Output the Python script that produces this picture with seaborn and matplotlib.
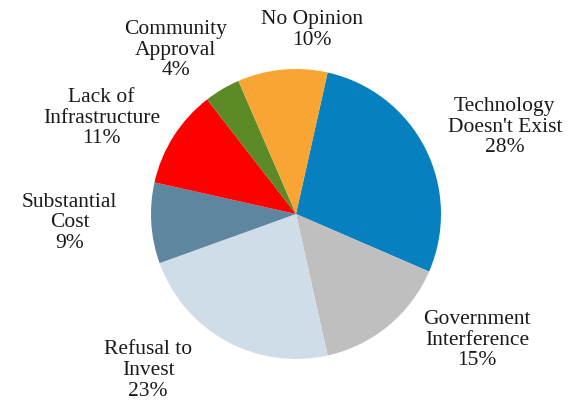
"""
Pie chart: reasons given, share of responses
"""

import matplotlib
matplotlib.use("Agg")
import matplotlib.pyplot as plt
import seaborn as sns

categories = [
    "Technology\nDoesn't Exist",
    "Government\nInterference",
    "Refusal to\nInvest",
    "Substantial\nCost",
    "Lack of\nInfrastructure",
    "Community\nApproval",
    "No Opinion",
]
shares = [28, 15, 23, 9, 11, 4, 10]
colors = ["#0780BF", "#BFBFBF", "#CFDDE8", "#5E869F", "#FF0000", "#5B8A27", "#F8A534"]

# label centres, in pie-radius units
label_x = [1.44, 1.25, -1.02, -1.56, -1.34, -0.83, 0.11]
label_y = [0.60, -0.87, -1.08, -0.06, 0.66, 1.13, 1.27]

sns.set_theme(style="white")
plt.rcParams["font.family"] = ["Liberation Serif", "DejaVu Serif"]

fig = plt.figure(figsize=(5.77, 4.05), dpi=100)
ax = fig.add_axes([0, 0, 1, 1])

ax.pie(shares, colors=colors, startangle=77.4, counterclock=False,
       wedgeprops=dict(linewidth=0))

for name, val, x, y in zip(categories, shares, label_x, label_y):
    ax.text(x, y, f"{name}\n{val}%", ha="center", va="center",
            fontsize=15.5, linespacing=1.12, color="#1a1a1a")

# 145 px per radius unit, centre at (296, 214) from top-left
ax.set_aspect("auto")
ax.set_xlim(-296 / 145, (577 - 296) / 145)
ax.set_ylim(-(405 - 214) / 145, 214 / 145)
ax.axis("off")

plt.savefig("out.png", dpi=100)
plt.close()
